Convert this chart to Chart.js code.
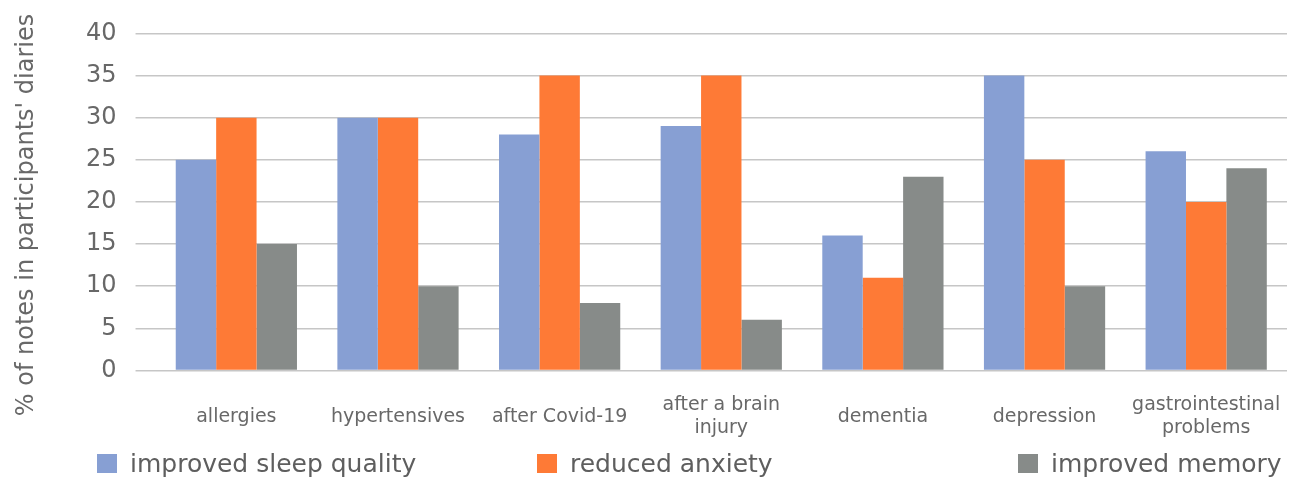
<!DOCTYPE html>
<html>
<head>
<meta charset="utf-8">
<script src="https://cdn.jsdelivr.net/npm/chart.js@4/dist/chart.umd.min.js"></script>
<style>
  html, body { margin: 0; padding: 0; background: #ffffff; }
  #wrap { position: relative; width: 1296px; height: 477px; }
</style>
</head>
<body>
<div id="wrap"><canvas id="chart" width="1296" height="477"></canvas></div>
<script>
// Patient groups along the x axis (multi-line labels as arrays)
const categories = [
  'allergies',
  'hypertensives',
  'after Covid-19',
  ['after a brain', 'injury'],
  'dementia',
  'depression',
  ['gastrointestinal', 'problems']
];

// Share of diary notes mentioning each effect, in %
const sleepQuality = [25, 30, 28, 29, 16, 35, 26];
const reducedAnxiety = [30, 30, 35, 35, 11, 25, 20];
const improvedMemory = [15, 10, 8, 6, 23, 10, 24];

const seriesNames = ['improved sleep quality', 'reduced anxiety', 'improved memory'];
const seriesColors = ['#879fd3', '#fe7a36', '#878b89'];

const yTicks = [0, 5, 10, 15, 20, 25, 30, 35, 40];
const yTitle = "% of notes in participants' diaries";

const FONT = "'DejaVu Sans', sans-serif";
const TEXT = '#686868';
const GRID = '#c6c6c6';

// Rotated y-axis caption, drawn in the left margin
const yCaption = {
  id: 'yCaption',
  afterDraw(chart) {
    const ctx = chart.ctx;
    ctx.save();
    ctx.translate(27, 215);
    ctx.rotate(-Math.PI / 2);
    ctx.font = '24px ' + FONT;
    ctx.fillStyle = TEXT;
    ctx.textAlign = 'center';
    ctx.textBaseline = 'middle';
    ctx.fillText(yTitle, 0, 0);
    ctx.restore();
  }
};

// Legend entries laid out as three spread-out columns below the axis labels
const legendX = [97, 537, 1018];
const spreadLegend = {
  id: 'spreadLegend',
  afterDraw(chart) {
    const ctx = chart.ctx;
    ctx.save();
    ctx.font = '25px ' + FONT;
    ctx.textBaseline = 'middle';
    ctx.textAlign = 'left';
    chart.data.datasets.forEach((ds, i) => {
      const x = legendX[i];
      const y = 465;
      ctx.fillStyle = ds.backgroundColor;
      ctx.fillRect(x, y - 11, 20, 19);
      ctx.fillStyle = '#5e5e5e';
      ctx.fillText(ds.label, x + 33, y);
    });
    ctx.restore();
  }
};

new Chart(document.getElementById('chart'), {
  type: 'bar',
  data: {
    labels: categories,
    datasets: [
      { label: seriesNames[0], data: sleepQuality, backgroundColor: seriesColors[0] },
      { label: seriesNames[1], data: reducedAnxiety, backgroundColor: seriesColors[1] },
      { label: seriesNames[2], data: improvedMemory, backgroundColor: seriesColors[2] }
    ]
  },
  options: {
    responsive: false,
    animation: false,
    datasets: { bar: { categoryPercentage: 0.75, barPercentage: 1.0, borderWidth: 0 } },
    layout: { padding: { top: 20, right: 9, bottom: -1, left: 67 } },
    plugins: {
      legend: { display: false },
      tooltip: { enabled: false }
    },
    scales: {
      x: {
        grid: { display: false },
        border: { display: false },
        // the label gap should only push labels down, not squeeze the plot sideways
        afterFit(scale) { scale.paddingLeft = 0; scale.paddingRight = 0; },
        ticks: {
          color: TEXT,
          font: { family: FONT, size: 19 },
          padding: 27,
          crossAlign: 'center',
          maxRotation: 0,
          autoSkip: false
        }
      },
      y: {
        min: 0,
        max: 40,
        afterBuildTicks(scale) { scale.ticks = yTicks.map(v => ({ value: v })); },
        border: { display: false },
        grid: { color: GRID, lineWidth: 1.5, tickLength: 20, tickColor: GRID, drawTicks: true },
        ticks: {
          color: TEXT,
          font: { family: FONT, size: 24 },
          padding: 19
        }
      }
    }
  },
  plugins: [yCaption, spreadLegend]
});
</script>
</body>
</html>
